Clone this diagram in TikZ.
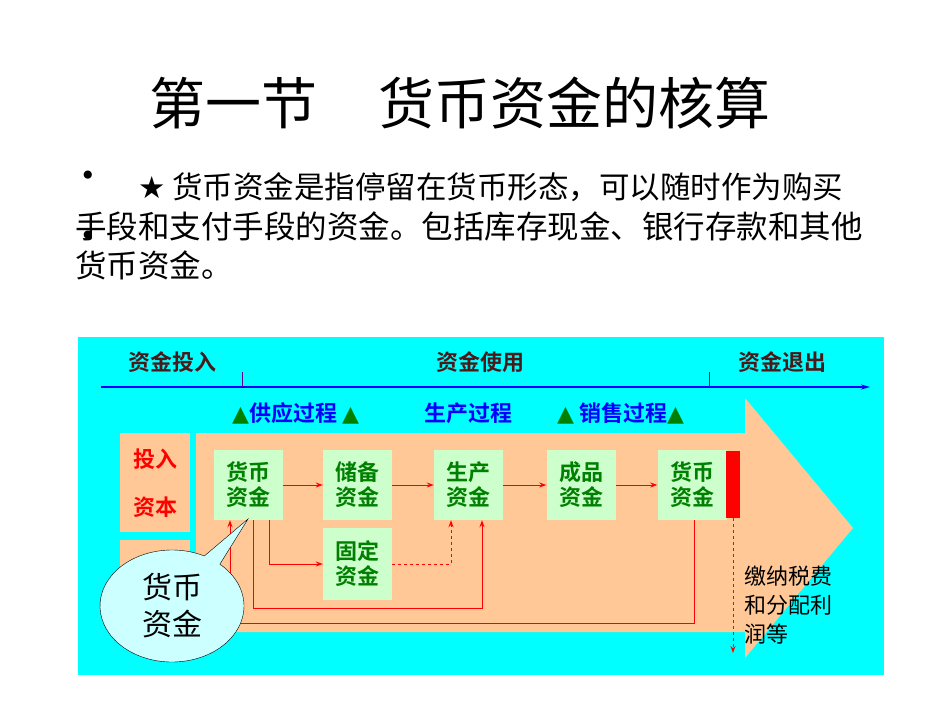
\documentclass[tikz,border=0pt]{standalone}
\usepackage{fontspec}
\newfontfamily\cjk{Noto Sans CJK SC}
\newfontfamily\cjkb{Noto Sans CJK SC Bold}
\newfontfamily\dv{DejaVu Sans}
\usetikzlibrary{arrows.meta,shapes.callouts}
\definecolor{bgcyan}{HTML}{00FFFF}
\definecolor{peach}{HTML}{FFC896}
\definecolor{lgreen}{HTML}{CCFFCC}
\definecolor{dgreen}{HTML}{008000}
\definecolor{brownt}{HTML}{4A1A1A}
\definecolor{lcyan}{HTML}{CCFFFF}
\begin{document}
\begin{tikzpicture}[x=1pt,y=-1pt,
  gbox/.style={fill=lgreen,minimum width=69pt,minimum height=70pt,inner sep=0pt,text=dgreen,font=\fontsize{22}{25}\cjkb,align=center},
  rl/.style={red,line width=1pt,-{Stealth[length=7pt,width=5pt]}},
  hd/.style={font=\fontsize{22}{24}\cjkb,text=brownt},
  pr/.style={font=\fontsize{22}{24}\cjkb,text=blue}]
\useasboundingbox (0,0) rectangle (950,713);
\fill[white] (0,0) rectangle (950,713);
\node[font=\fontsize{56}{60}\cjk] (title) at (460,103) {第一节\hspace{1.1em}货币资金的核算};
\node[font=\fontsize{28}{30}\dv] (b1) at (88,178) {•};
\node[font=\fontsize{28}{30}\dv] (b2) at (88,238) {•};
\node[anchor=west,font=\fontsize{30.5}{32}\cjk,inner sep=0pt] (l1) at (138,187) {{\dv ★} 货币资金是指停留在货币形态，可以随时作为购买};
\node[anchor=west,font=\fontsize{31.5}{32}\cjk,inner sep=0pt] (l2) at (75,226) {手段和支付手段的资金。包括库存现金、银行存款和其他};
\node[anchor=west,font=\fontsize{31.5}{32}\cjk,inner sep=0pt] (l3) at (75,265) {货币资金。};
% diagram
\fill[bgcyan] (78,337) rectangle (884,675);
\fill[peach] (196,433) -- (745,433) -- (745,398) -- (853,528) -- (745,658) -- (745,632) -- (196,632) -- cycle;
\fill[peach] (120,433) rectangle (190,532);
\fill[peach] (120,540) rectangle (190,633);
\node[font=\fontsize{22}{24}\cjkb,text=red] (tr) at (155,459) {投入};
\node[font=\fontsize{22}{24}\cjkb,text=red] (zb) at (155,507) {资本};
\coordinate (axs) at (101,387); \coordinate (axe) at (870,387);
\draw[blue,line width=1.5pt,-{Stealth[length=9pt,width=5pt]}] (axs) -- (axe);
\draw[blue!60!red,line width=1pt] (242,372) -- (242,387) (709,372) -- (709,387);
\node[hd] (h1) at (172,362) {资金投入};
\node[hd] (h2) at (480,362) {资金使用};
\node[hd] (h3) at (782,362) {资金退出};
\node[pr,anchor=west,inner sep=0pt] (p1) at (232,413) {{\dv\color{dgreen}▲}供应过程 {\dv\color{dgreen}▲}};
\node[pr] (p2) at (468,413) {生产过程};
\node[pr,anchor=west,inner sep=0pt] (p3) at (557,413) {{\dv\color{dgreen}▲} 销售过程{\dv\color{dgreen}▲}};
\node[gbox] (m1) at (248.5,485) {货币\\资金};
\node[gbox] (cb) at (357.5,485) {储备\\资金};
\node[gbox] (sc) at (468.5,485) {生产\\资金};
\node[gbox] (cp) at (581,485) {成品\\资金};
\node[gbox] (m2) at (692,485) {货币\\资金};
\node[gbox,minimum height=72pt] (gd) at (357.5,564) {固定\\资金};
\node[fill=red,minimum width=14pt,minimum height=67pt,inner sep=0pt] (bar) at (733,484.5) {};
\draw[rl] (m1.east) -- (cb.west);
\draw[rl] (cb.east) -- (sc.west);
\draw[rl] (sc.east) -- (cp.west);
\draw[rl] (cp.east) -- (m2.west);
\draw[rl] (m1.south -| 269,0) |- (gd.west);
\draw[rl,dashed] (gd.east) -| (sc.south -| 451,0);
\draw[rl] (m1.south -| 253,0) |- (482,608) -- (sc.south -| 482,0);
\draw[rl] (m2.south -| 694,0) |- (230,623) -- (m1.south -| 230,0);
\draw[red,line width=1pt,dashed,-{Stealth[length=7pt,width=5pt]}] (bar.south) -- (733,653);
\node[anchor=north west,align=left,font=\fontsize{22}{29}\cjk] (tax) at (741,562) {缴纳税费\\和分配利\\润等};
\node[ellipse callout,draw=black,fill=lcyan,minimum width=144pt,minimum height=112pt,
  callout absolute pointer={(248,519)},font=\fontsize{30}{37}\cjk,align=left,inner sep=0pt] (cl) at (172,606) {货币\\资金};
\end{tikzpicture}
\end{document}
